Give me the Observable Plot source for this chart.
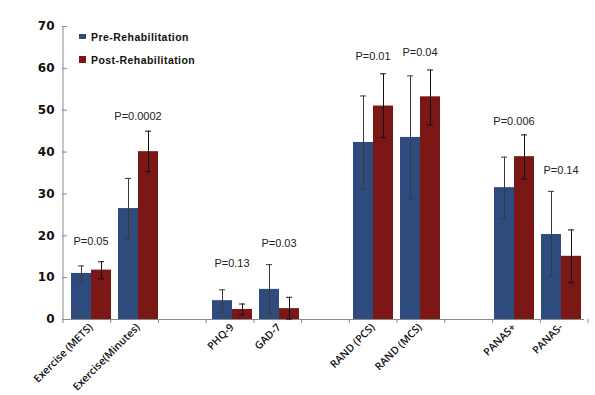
<!DOCTYPE html>
<html><head><meta charset="utf-8">
<script src="https://cdn.jsdelivr.net/npm/d3@7"></script>
<script src="https://cdn.jsdelivr.net/npm/@observablehq/plot@0.6"></script>
<style>
body{margin:0;background:#fff;}
#wrap{position:relative;width:595px;height:395px;}
#legend{position:absolute;left:79px;top:25px;font-family:"Liberation Sans",sans-serif;font-weight:bold;font-size:10.5px;letter-spacing:0.45px;color:#111;}
#legend div{display:flex;align-items:center;height:23px;}
#legend span.sw{display:inline-block;width:7px;margin-right:5px;}
</style></head>
<body><div id="wrap"><div id="legend"></div></div>
<script>
const measures = ["Exercise (METS)","Exercise(Minutes)","PHQ-9","GAD-7","RAND (PCS)","RAND (MCS)","PANAS+","PANAS-"];
const slots = ["Exercise (METS)","Exercise(Minutes)","gap1","PHQ-9","GAD-7","gap2","RAND (PCS)","RAND (MCS)","gap3","PANAS+","PANAS-"];
const seriesNames = ["Pre-Rehabilitation","Post-Rehabilitation"];
const pre      = [11.0, 26.5, 4.5, 7.2, 42.3, 43.5, 31.5, 20.3];
const preLow   = [9.1, 19.3, 1.8, 1.4, 31.2, 28.9, 24.1, 10.3];
const preHigh  = [12.8, 33.7, 7.1, 13.1, 53.4, 58.2, 38.8, 30.6];
const post     = [11.8, 40.1, 2.4, 2.6, 51.0, 53.2, 38.9, 15.1];
const postLow  = [9.7, 35.3, 1.1, 0.1, 43.4, 46.5, 33.6, 8.8];
const postHigh = [13.8, 45.0, 3.7, 5.3, 58.7, 59.6, 44.1, 21.4];
const pLabels  = ["P=0.05","P=0.0002","P=0.13","P=0.03","P=0.01","P=0.04","P=0.006","P=0.14"];
const pLabelY  = [18.6, 48.5, 13.5, 18.1, 62.9, 63.8, 47.4, 35.6];
const yTicks   = [0,10,20,30,40,50,60,70];
const colors   = ["#2F4A7D","#7B1815"];
const errColors = ["#3a3a3a","#111111"];

const data = measures.flatMap((m,i)=>[
  {m, s:seriesNames[0], v:pre[i], lo:preLow[i], hi:preHigh[i]},
  {m, s:seriesNames[1], v:post[i], lo:postLow[i], hi:postHigh[i]}
]);
const labels = measures.map((m,i)=>({m, t:pLabels[i], y:pLabelY[i]}));
const errStroke = d => errColors[seriesNames.indexOf(d.s)];

const plot = Plot.plot({
  width:595, height:395,
  marginLeft:63, marginRight:7, marginTop:26, marginBottom:76,
  style:{background:"#fff"},
  fx:{domain:slots, padding:0, label:null},
  x:{domain:seriesNames, paddingInner:0, paddingOuter:0.16, axis:null},
  y:{domain:[0,70], axis:null},
  color:{domain:seriesNames, range:colors},
  marks:[
    Plot.ruleY(slots, {fx:d=>d, y:0, stroke:"#8a8a8a"}),
    Plot.barY(data, {fx:"m", x:"s", y:"v", fill:"s"}),
    Plot.ruleX(data, {fx:"m", x:"s", y1:"lo", y2:"hi", stroke:errStroke, strokeWidth:1}),
    Plot.tickY(data, {fx:"m", x:"s", y:"lo", stroke:errStroke, inset:7}),
    Plot.tickY(data, {fx:"m", x:"s", y:"hi", stroke:errStroke, inset:7}),
    Plot.text(labels, {fx:"m", y:"y", text:"t", fontSize:11, fill:"#222", fontFamily:"Liberation Sans"}),
    Plot.axisY({ticks:yTicks, tickSize:5, tickPadding:8, stroke:"#8a8a8a", fill:"#111", fontSize:12, fontWeight:"bold", fontFamily:"DejaVu Sans", label:null}),
    Plot.axisFx({anchor:"bottom", tickRotate:-45, tickSize:0, tickPadding:6, label:null, fontSize:10.5, fontWeight:600, fontFamily:"Open Sans", fill:"#111",
      tickFormat:d=>d.startsWith("gap")?"":d})
  ]
});

// y-axis line and category boundary ticks derived from the plot's scales
const fx = plot.scale("fx"), y = plot.scale("y");
const band = d3.scaleBand().domain(fx.domain).range(fx.range).paddingInner(0).paddingOuter(0);
const svg = d3.select(plot);
const g = svg.append("g").attr("stroke","#8a8a8a");
const y0 = y.apply(0), yTop = y.apply(70);
const xs = fx.domain.map(d=>band(d)).concat([band(fx.domain[fx.domain.length-1]) + band.bandwidth()]);
g.append("line").attr("x1",xs[0]).attr("x2",xs[0]).attr("y1",y0).attr("y2",yTop);
xs.forEach(x=>g.append("line").attr("x1",x).attr("x2",x).attr("y1",y0).attr("y2",y0+4));

document.getElementById("wrap").prepend(plot);
const lg = document.getElementById("legend");
seriesNames.forEach((n,i)=>{
  const d=document.createElement("div");
  d.innerHTML=`<span class="sw" style="background:${colors[i]};height:${i===0?5:7}px"></span>${n}`;
  lg.appendChild(d);
});
</script></body></html>
